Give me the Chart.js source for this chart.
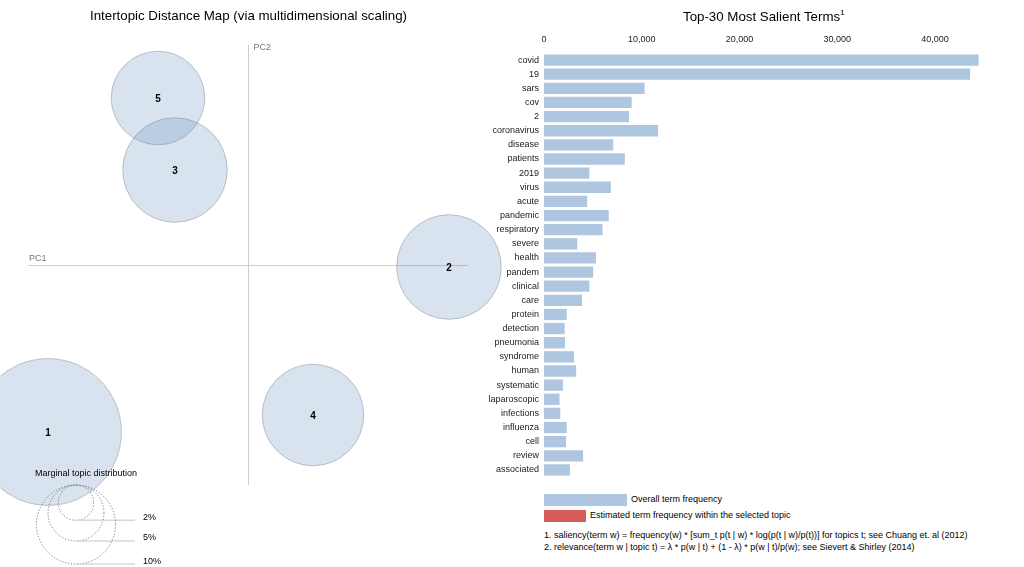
<!DOCTYPE html>
<html><head><meta charset="utf-8">
<script src="https://cdn.jsdelivr.net/npm/chart.js@4.4.1/dist/chart.umd.min.js"></script>
<style>
html,body{margin:0;padding:0;background:#fff;}
#wrap{position:relative;width:1024px;height:567px;overflow:hidden;font-family:"Liberation Sans",Arial,Helvetica,sans-serif;color:#000;}
canvas{position:absolute;}
.t{position:absolute;white-space:nowrap;line-height:1;}
.sw{position:absolute;}
</style></head><body>
<div id="wrap">
<canvas id="bars" width="584" height="490" style="left:440px;top:0;width:584px;height:490px"></canvas>
<canvas id="map" width="540" height="567" style="left:0;top:0;width:540px;height:567px"></canvas>
<div class="t" style="left:0;width:497px;top:9px;text-align:center;font-size:13.3px;">Intertopic Distance Map (via multidimensional scaling)</div>
<div class="t" style="left:683px;top:9px;font-size:13.3px;">Top-30 Most Salient Terms<sup style="font-size:8px;vertical-align:6px;">1</sup></div>
<div class="sw" style="left:544px;top:494px;width:83px;height:12px;background:#afc6e0;"></div>
<div class="t" style="left:631px;top:495px;font-size:9px;">Overall term frequency</div>
<div class="sw" style="left:544px;top:510px;width:42px;height:12px;background:#d65a58;"></div>
<div class="t" style="left:590px;top:511px;font-size:9px;">Estimated term frequency within the selected topic</div>
<div class="t" style="left:544px;top:531px;font-size:9px;">1. saliency(term w) = frequency(w) * [sum_t p(t | w) * log(p(t | w)/p(t))] for topics t; see Chuang et. al (2012)</div>
<div class="t" style="left:544px;top:543px;font-size:9px;">2. relevance(term w | topic t) = λ * p(w | t) + (1 - λ) * p(w | t)/p(w); see Sievert &amp; Shirley (2014)</div>
</div>
<script>
// ---------- Data ----------
const topicIds = [1, 2, 3, 4, 5];
const topicPC1 = [-0.200, 0.201, -0.073, 0.065, -0.090];
const topicPC2 = [-0.167, -0.002, 0.095, -0.150, 0.167];
const topicMarginalPct = [34.5, 17.5, 17.5, 16.5, 14.0];
const legendPcts = [2, 5, 10];

const terms = ["covid","19","sars","cov","2","coronavirus","disease","patients","2019","virus",
  "acute","pandemic","respiratory","severe","health","pandem","clinical","care","protein","detection",
  "pneumonia","syndrome","human","systematic","laparoscopic","infections","influenza","cell","review","associated"];
const overallFreq = [44450, 43580, 10290, 8970, 8690, 11670, 7080, 8260, 4640, 6840,
  4420, 6620, 5990, 3400, 5310, 5030, 4640, 3890, 2320, 2120,
  2150, 3070, 3290, 1930, 1590, 1660, 2320, 2260, 4000, 2650];
const freqTicks = [0, 10000, 20000, 30000, 40000];

// ---------- Styles ----------
const FONT = '"Liberation Sans", Arial, Helvetica, sans-serif';
const RADIUS_K = 12.5; // px per sqrt(percent)
const rad = p => RADIUS_K * Math.sqrt(p);

// ---------- Intertopic distance map ----------
const mapDecor = {
  id: 'mapDecor',
  beforeDatasetsDraw(chart) {
    const {ctx, scales: {x, y}} = chart;
    const x0 = Math.round(x.getPixelForValue(0)) + 0.5;
    const y0 = Math.round(y.getPixelForValue(0)) + 0.5;
    ctx.save();
    ctx.strokeStyle = '#cfcfcf';
    ctx.lineWidth = 1;
    ctx.beginPath();
    ctx.moveTo(x.left, y0); ctx.lineTo(x.right, y0);
    ctx.moveTo(x0, y.top); ctx.lineTo(x0, y.bottom);
    ctx.stroke();
    ctx.fillStyle = '#777';
    ctx.font = '9px ' + FONT;
    ctx.textBaseline = 'middle';
    ctx.textAlign = 'left';
    ctx.fillText('PC1', x.left + 1, y0 - 7);
    ctx.fillText('PC2', x0 + 5, y.top + 3);
    ctx.restore();
  },
  afterDatasetsDraw(chart) {
    const {ctx, scales: {x, y}} = chart;
    const meta = chart.getDatasetMeta(0);
    ctx.save();
    ctx.fillStyle = '#000';
    ctx.font = 'bold 10px ' + FONT;
    ctx.textAlign = 'center';
    ctx.textBaseline = 'middle';
    meta.data.forEach((el, i) => ctx.fillText(String(topicIds[i]), el.x, el.y + 1));
    // marginal topic distribution legend
    const cx = x.left + 48, top = y.bottom;
    ctx.font = '9px ' + FONT;
    ctx.fillText('Marginal topic distribution', cx + 10, top - 11);
    legendPcts.forEach(p => {
      const r = rad(p);
      ctx.setLineDash([1.2, 1.8]);
      ctx.strokeStyle = '#777';
      ctx.lineWidth = 1;
      ctx.beginPath();
      ctx.arc(cx, top + r, r, 0, Math.PI * 2);
      ctx.stroke();
      ctx.setLineDash([]);
      ctx.strokeStyle = '#d8d8d8';
      ctx.lineWidth = 1.5;
      ctx.beginPath();
      ctx.moveTo(cx, top + 2 * r); ctx.lineTo(cx + 59, top + 2 * r);
      ctx.stroke();
      ctx.fillStyle = '#000';
      ctx.textAlign = 'left';
      ctx.fillText(p + '%', cx + 67, top + 2 * r - 3);
    });
    ctx.restore();
  }
};

new Chart(document.getElementById('map'), {
  type: 'bubble',
  data: {
    datasets: [{
      data: topicIds.map((id, i) => ({x: topicPC1[i], y: topicPC2[i]})),
      backgroundColor: 'rgba(60,115,175,0.2)',
      borderColor: 'rgba(120,120,120,0.4)',
      borderWidth: 1,
      radius: ctx => rad(topicMarginalPct[ctx.dataIndex]),
      clip: false
    }]
  },
  options: {
    responsive: false,
    animation: false,
    events: [],
    layout: {autoPadding: false, padding: {left: 28, right: 72, top: 45, bottom: 82}},
    plugins: {legend: {display: false}, tooltip: {enabled: false}},
    scales: {
      x: {display: false, min: -0.22, max: 0.22},
      y: {display: false, min: -0.22, max: 0.22}
    }
  },
  plugins: [mapDecor]
});

// ---------- Top-30 salient terms ----------
new Chart(document.getElementById('bars'), {
  type: 'bar',
  data: {
    labels: terms,
    datasets: [{
      data: overallFreq,
      backgroundColor: '#afc6e0',
      borderWidth: 0,
      barPercentage: 0.8,
      categoryPercentage: 1.0
    }]
  },
  options: {
    indexAxis: 'y',
    responsive: false,
    animation: false,
    events: [],
    layout: {padding: {left: 0, right: 40, top: 25, bottom: 13}},
    plugins: {legend: {display: false}, tooltip: {enabled: false}},
    scales: {
      x: {
        position: 'top',
        min: 0, max: 45000,
        afterBuildTicks: s => { s.ticks = freqTicks.map(v => ({value: v})); },
        afterFit: s => { s.height = 28; },
        grid: {display: false, drawTicks: false},
        border: {display: false},
        ticks: {
          padding: 8, color: '#222', maxRotation: 0,
          font: {size: 9, family: FONT},
          callback: v => Number(v).toLocaleString('en-US')
        }
      },
      y: {
        afterFit: s => { s.width = 104; },
        grid: {display: false, drawTicks: false},
        border: {display: false},
        ticks: {padding: 5, color: '#222', autoSkip: false, font: {size: 9, family: FONT}}
      }
    }
  }
});
</script>
</body></html>
